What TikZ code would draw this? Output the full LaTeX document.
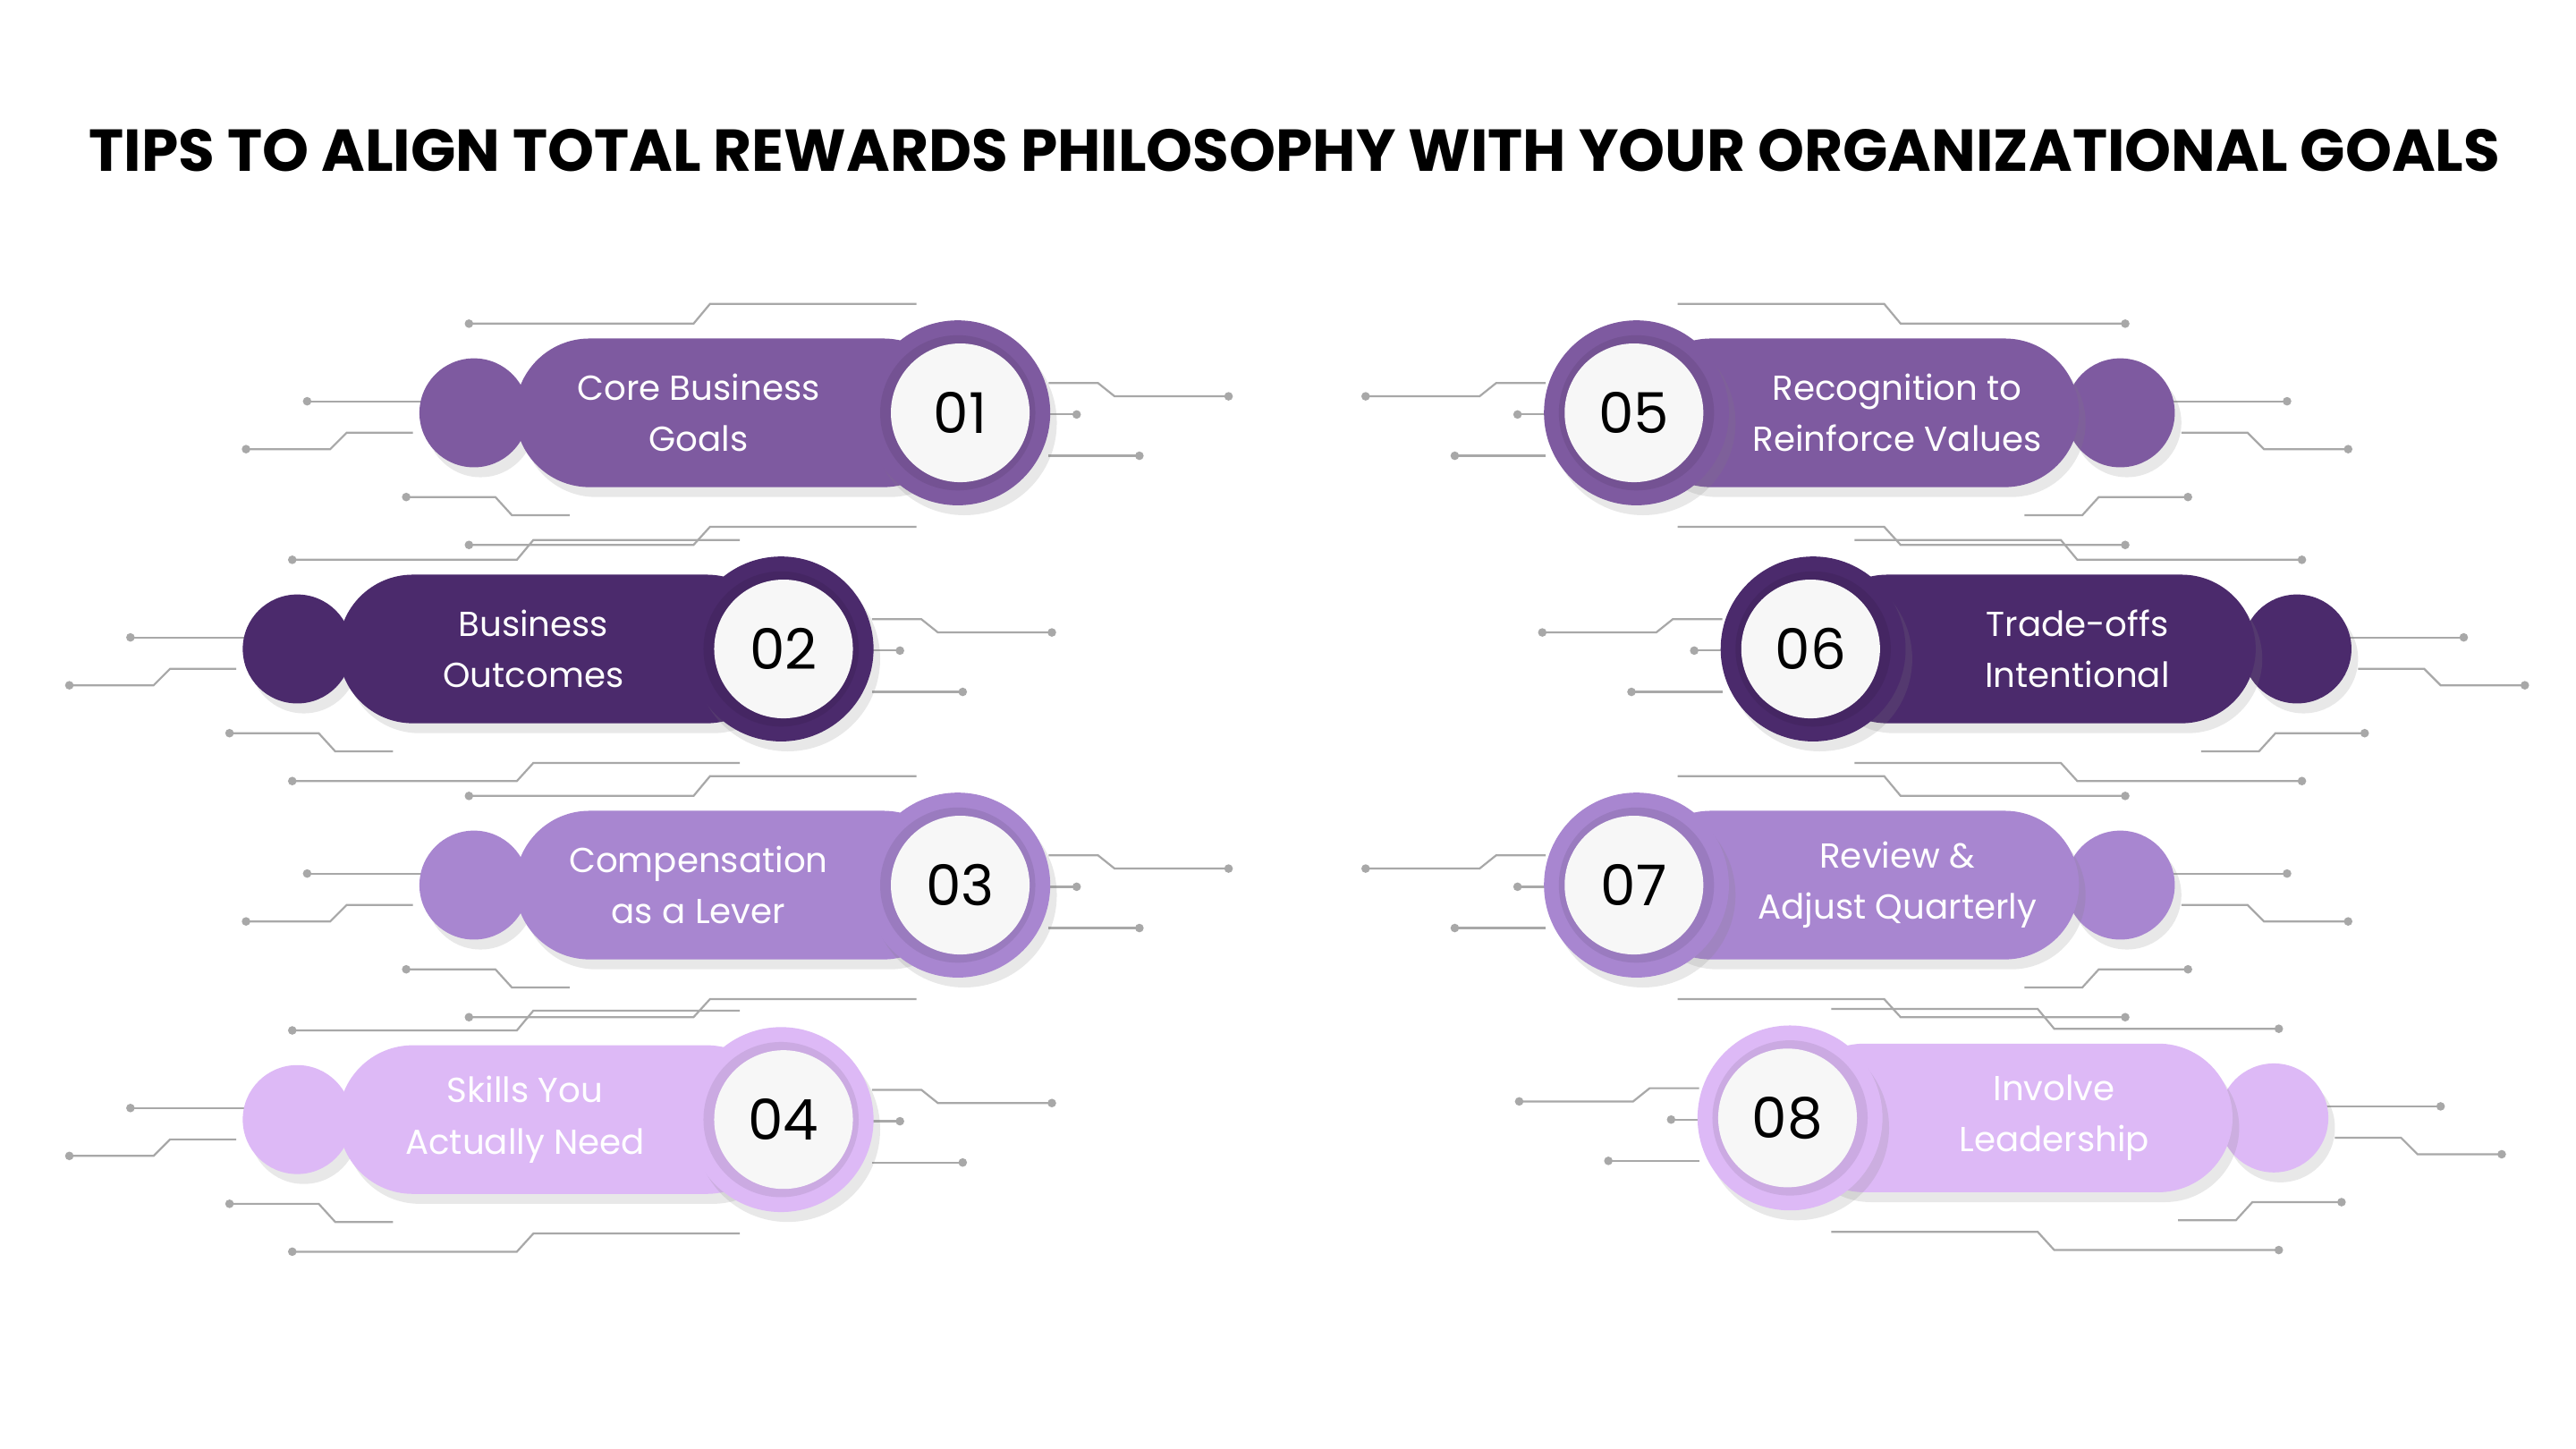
\documentclass[tikz,border=0pt]{standalone}
\usepackage{fontspec}
\setmainfont{Poppins}
\usetikzlibrary{shadows}
\definecolor{cA}{HTML}{7E5AA0}
\definecolor{cB}{HTML}{4B2A6C}
\definecolor{cC}{HTML}{A886D0}
\definecolor{cD}{HTML}{DDB9F6}
\definecolor{ln}{HTML}{A8A8A8}
\tikzset{
  deco/.style={draw=ln,line width=1.2pt},
  dotc/.style={fill=ln,draw=none},
  txt/.style={text=white,font=\fontsize{21}{31}\selectfont,align=center},
  num/.style={font=\fontsize{34}{34}\selectfont\fontseries{m},text=black},
  shd/.style={drop shadow={opacity=0.18,shadow xshift=4pt,shadow yshift=-6pt}}
}
\newcommand\decoset{%
  \draw[deco] (-296,-54) -- (-160,-54) -- (-150,-66) -- (-25,-66);
  \fill[dotc] (-296,-54) circle (2.6);
  \draw[deco] (-394,-7) -- (-325,-7); \fill[dotc] (-394,-7) circle (2.6);
  \draw[deco] (-431,22) -- (-380,22) -- (-370,12) -- (-330,12); \fill[dotc] (-431,22) circle (2.6);
  \draw[deco] (-334,51) -- (-280,51) -- (-270,62) -- (-235,62); \fill[dotc] (-334,51) circle (2.6);
  \draw[deco] (55,-18) -- (85,-18) -- (95,-10) -- (164,-10); \fill[dotc] (164,-10) circle (2.6);
  \draw[deco] (55,1) -- (72,1); \fill[dotc] (72,1) circle (2.6);
  \draw[deco] (55,26) -- (110,26); \fill[dotc] (110,26) circle (2.6);
  \draw[deco] (-296,80) -- (-160,80) -- (-150,69) -- (-25,69); \fill[dotc] (-296,80) circle (2.6);
}
% #1 name, #2 ring x, #3 y, #4 dir, #5 colour, #6 number, #7 text, #8 text offset
\newcommand\tipitem[8]{%
  \begin{scope}[shift={(#2,#3)},xscale=#4]
    \decoset
    \fill[#5,shd] (-293,0) circle (33);
    \fill[#5,shd,rounded corners=45] (-268,-45) rectangle (0,45);
    \fill[#5,shd] (0,0) circle (56);
    \fill[black,opacity=0.08] (0,0) circle (47);
    \fill[white!97!black] (1.5,0) circle (42);
  \end{scope}
  \node[num] (#1n) at (#2+1.5*#4,#3) {#6};
  \node[txt] (#1t) at (#2-#8*#4,#3) {#7};
}
\begin{document}
\begin{tikzpicture}[x=1pt,y=-1pt]
\useasboundingbox[fill=white] (0,0) rectangle (1560,877.5);
\node[font=\fontsize{33}{33}\selectfont\bfseries] (title) at (784,91)
  {\resizebox{1460pt}{!}{TIPS TO ALIGN TOTAL REWARDS PHILOSOPHY WITH YOUR ORGANIZATIONAL GOALS}};
\tipitem{a}{580}{250}{1}{cA}{01}{Core Business\\Goals}{157}
\tipitem{b}{473}{393}{1}{cB}{02}{Business\\Outcomes}{150}
\tipitem{c}{580}{536}{1}{cC}{03}{Compensation\\as a Lever}{157}
\tipitem{d}{473}{678}{1}{cD}{04}{Skills You\\Actually Need}{155}
\tipitem{e}{991}{250}{-1}{cA}{05}{Recognition to\\Reinforce Values}{158}
\tipitem{f}{1098}{393}{-1}{cB}{06}{Trade-offs\\Intentional}{160}
\tipitem{g}{991}{536}{-1}{cC}{07}{Review \&\\Adjust Quarterly}{158}
\tipitem{h}{1084}{677}{-1}{cD}{08}{Involve\\Leadership}{160}
\end{tikzpicture}
\end{document}
